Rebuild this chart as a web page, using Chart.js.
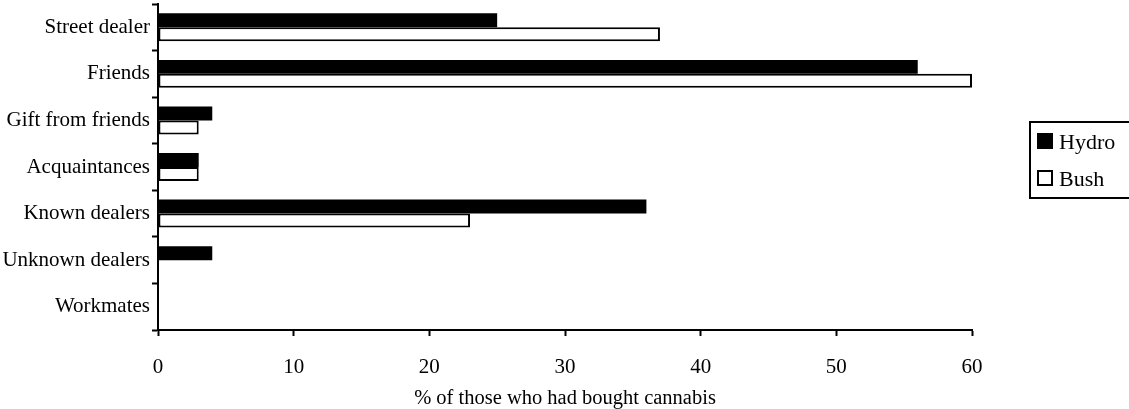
<!DOCTYPE html>
<html>
<head>
<meta charset="utf-8">
<script src="https://cdn.jsdelivr.net/npm/chart.js@4"></script>
<style>
  html, body { margin: 0; padding: 0; background: #fff; }
  #wrap { width: 1129px; height: 409px; position: relative; }
</style>
</head>
<body>
<div id="wrap"><canvas id="chart"></canvas></div>
<script>
// Data
const categories = ['Street dealer', 'Friends', 'Gift from friends', 'Acquaintances', 'Known dealers', 'Unknown dealers', 'Workmates'];
const hydroValues = [25, 56, 4, 3, 36, 4, 0];
const bushValues = [37, 60, 3, 3, 23, 0, 0];
const seriesNames = ['Hydro', 'Bush'];
const axisTitle = '% of those who had bought cannabis';

const serif = "'Liberation Serif', 'DejaVu Serif', serif";

// Legend with a frame, drawn on the right
const boxedLegend = {
  id: 'boxedLegend',
  afterDraw(chart) {
    const ctx = chart.ctx;
    const left = 1030, top = 122, bottom = 198;
    ctx.save();
    ctx.strokeStyle = '#000';
    ctx.lineWidth = 2;
    ctx.strokeRect(left, top, 120, bottom - top);
    ctx.font = '22px ' + serif;
    ctx.textBaseline = 'middle';
    chart.data.datasets.forEach((ds, i) => {
      const cy = 141 + i * 37;
      ctx.fillStyle = ds.backgroundColor;
      ctx.fillRect(1038, cy - 7, 14, 14);
      ctx.lineWidth = 2;
      ctx.strokeRect(1038, cy - 7, 14, 14);
      ctx.fillStyle = '#000';
      ctx.fillText(ds.label, 1059, cy + 2);
    });
    ctx.restore();
  }
};

new Chart(document.getElementById('chart'), {
  type: 'bar',
  data: {
    labels: categories,
    datasets: [
      {
        label: seriesNames[0],
        data: hydroValues,
        backgroundColor: '#000',
        borderColor: '#000',
        borderWidth: 0,
        categoryPercentage: 0.6,
        barPercentage: 1.0
      },
      {
        label: seriesNames[1],
        data: bushValues,
        backgroundColor: '#fff',
        borderColor: '#000',
        borderWidth: 2,
        borderSkipped: false,
        categoryPercentage: 0.6,
        barPercentage: 1.0
      }
    ]
  },
  plugins: [boxedLegend],
  options: {
    indexAxis: 'y',
    responsive: true,
    maintainAspectRatio: false,
    animation: false,
    layout: { padding: { top: 4, right: 157, bottom: 0, left: 0 } },
    plugins: {
      legend: { display: false },
      tooltip: { enabled: false }
    },
    scales: {
      x: {
        min: 0,
        max: 60,
        ticks: {
          stepSize: 10,
          color: '#000',
          padding: 19,
          font: { family: serif, size: 21 }
        },
        grid: {
          drawOnChartArea: false,
          drawTicks: true,
          tickLength: 6,
          tickWidth: 2,
          tickColor: '#000'
        },
        border: { color: '#000', width: 2 },
        title: {
          display: true,
          text: axisTitle,
          color: '#000',
          font: { family: serif, size: 20.5 },
          padding: { top: 0, bottom: -2 }
        },
        afterFit(scale) { scale.height = 79; }
      },
      y: {
        ticks: {
          color: '#000',
          padding: 2,
          font: { family: serif, size: 21 }
        },
        grid: {
          offset: true,
          drawOnChartArea: false,
          drawTicks: true,
          tickLength: 6,
          tickWidth: 2,
          tickColor: '#000'
        },
        border: { color: '#000', width: 2 },
        afterFit(scale) {
          scale.width = 158;
          // labels sit between the ticks, so no extra room is needed at the ends
          scale.paddingTop = 0;
          scale.paddingBottom = 0;
        }
      }
    }
  }
});
</script>
</body>
</html>
